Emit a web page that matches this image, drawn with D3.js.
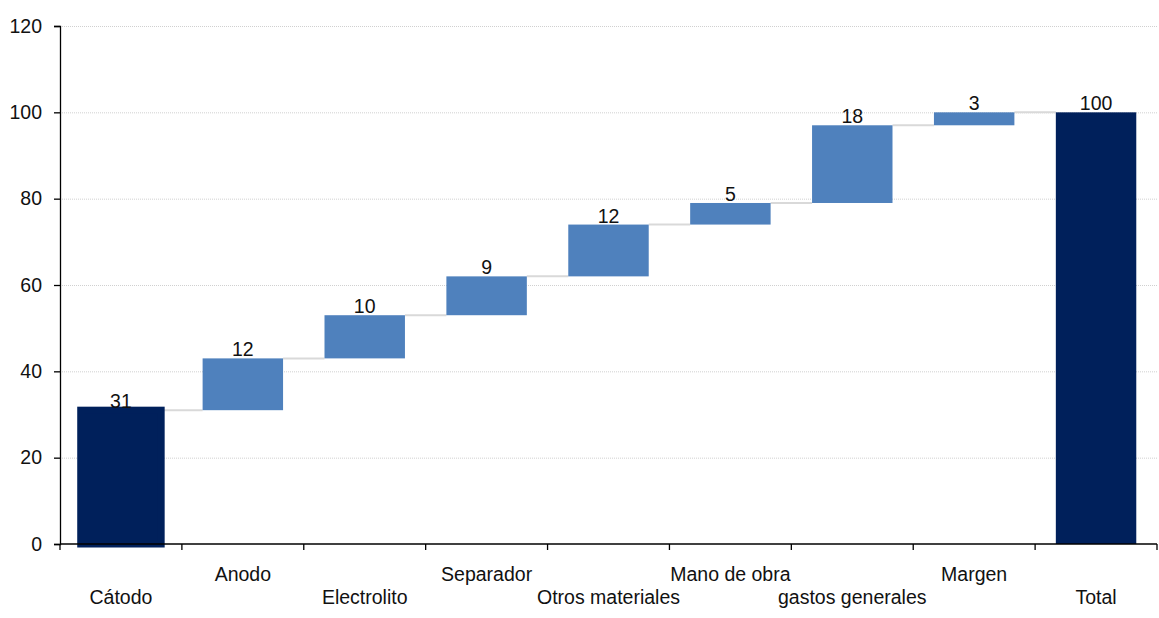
<!DOCTYPE html>
<html>
<head>
<meta charset="utf-8">
<script src="https://cdn.jsdelivr.net/npm/d3@7"></script>
<style>
  html, body { margin: 0; padding: 0; background: #fff; }
  svg { display: block; font-family: "Liberation Sans", Arial, sans-serif; }
</style>
</head>
<body>
<svg id="chart" width="1159" height="618"></svg>
<script>
// Cost breakdown steps (waterfall); first and last are totals
const categories = ["Cátodo", "Anodo", "Electrolito", "Separador", "Otros materiales",
                    "Mano de obra", "gastos generales", "Margen", "Total"];
const values = [31, 12, 10, 9, 12, 5, 18, 3, 100];
const isTotal = [true, false, false, false, false, false, false, false, true];
const yTicks = [0, 20, 40, 60, 80, 100, 120];

const FONT = 19.5;
const svg = d3.select("#chart");
const margin = { top: 26, right: 2, bottom: 74, left: 60 };
const W = 1159, H = 618;
const innerW = W - margin.left - margin.right;
const innerH = H - margin.top - margin.bottom;

const g = svg.append("g").attr("transform", `translate(${margin.left},${margin.top})`);

const x = d3.scaleBand().domain(categories).range([0, innerW]).paddingInner(0.34).paddingOuter(0.17);
const y = d3.scaleLinear().domain([0, 120]).range([innerH, 0]);

// Build bar extents from running totals
let running = 0;
const bars = categories.map((c, i) => {
  let lo, hi;
  if (isTotal[i]) { lo = 0; hi = values[i]; running = values[i]; }
  else { lo = running; hi = running + values[i]; running = hi; }
  return { cat: c, lo, hi, value: values[i], total: isTotal[i], i };
});

// Horizontal gridlines
g.append("g").selectAll("line").data(yTicks.filter(t => t > 0)).join("line")
  .attr("x1", 0).attr("x2", innerW)
  .attr("y1", d => y(d) + 0.5).attr("y2", d => y(d) + 0.5)
  .attr("stroke", "#d0d0d0").attr("stroke-width", 1).attr("stroke-dasharray", "1,1");

// Connectors between consecutive bars
const connectors = bars.slice(0, -1).map((b, i) => ({
  x1: x(b.cat) + x.bandwidth(), x2: x(bars[i + 1].cat), v: b.hi
}));
g.append("g").selectAll("line").data(connectors).join("line")
  .attr("x1", d => d.x1).attr("x2", d => d.x2)
  .attr("y1", d => y(d.v)).attr("y2", d => y(d.v))
  .attr("stroke", "#d9d9d9").attr("stroke-width", 2);

// Bars (the starting bar carries a thick outline in its own colour)
g.append("g").selectAll("rect").data(bars).join("rect")
  .attr("x", d => x(d.cat))
  .attr("width", x.bandwidth())
  .attr("y", d => y(d.hi))
  .attr("height", d => y(d.lo) - y(d.hi))
  .attr("fill", d => d.total ? "#00205B" : "#4F81BD")
  .attr("stroke", d => d.i === 0 ? "#00205B" : "none")
  .attr("stroke-width", d => d.i === 0 ? 7 : 0);

// Value labels
g.append("g").selectAll("text").data(bars).join("text")
  .attr("x", d => x(d.cat) + x.bandwidth() / 2)
  .attr("y", d => y(d.hi) - 2)
  .attr("text-anchor", "middle")
  .attr("font-size", FONT)
  .attr("fill", "#111")
  .text(d => d.value);

// Y axis
const yAxis = g.append("g")
  .call(d3.axisLeft(y).tickValues(yTicks).tickSize(6).tickPadding(12));
yAxis.select(".domain").attr("stroke", "#000").attr("stroke-width", 1.3);
yAxis.selectAll(".tick line").attr("stroke", "#000").attr("stroke-width", 1.3);
yAxis.selectAll("text").attr("font-size", FONT).attr("fill", "#111")
  .style("font-family", "'Liberation Sans', Arial, sans-serif");

// X axis: ticks at band boundaries
const xAxisG = g.append("g").attr("transform", `translate(0,${innerH})`);
xAxisG.append("line").attr("x1", 0).attr("x2", innerW).attr("y1", 0).attr("y2", 0)
  .attr("stroke", "#000").attr("stroke-width", 1.3);
xAxisG.selectAll(".bt").data(d3.range(categories.length + 1)).join("line")
  .attr("x1", i => i * x.step()).attr("x2", i => i * x.step())
  .attr("y1", 0).attr("y2", 6)
  .attr("stroke", "#000").attr("stroke-width", 1.3);

// Category labels, staggered across two rows
xAxisG.selectAll(".cl").data(categories).join("text")
  .attr("x", d => x(d) + x.bandwidth() / 2)
  .attr("y", (d, i) => i % 2 === 0 ? 60 : 37)
  .attr("text-anchor", "middle")
  .attr("font-size", FONT)
  .attr("fill", "#111")
  .text(d => d);
</script>
</body>
</html>
